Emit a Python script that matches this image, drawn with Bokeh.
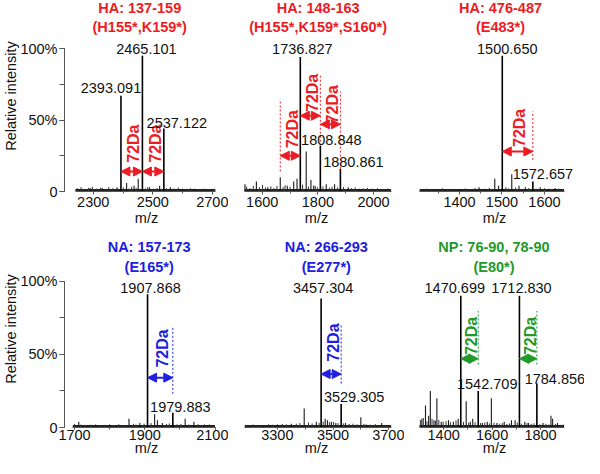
import numpy as np
from bokeh.plotting import figure
from bokeh.layouts import row, column
from bokeh.models import Range1d, FixedTicker, Arrow, NormalHead, ColumnDataSource
from bokeh.core.properties import value
from bokeh.embed import file_html
from bokeh.resources import INLINE

FONT = "Liberation Sans"
RED, BLUE, GREEN = "#ec1c24", "#2020e0", "#229a2a"
SHIFT = 72  # Da, mass shift marked by the arrows

# ------------------------------------------------------------------ data
p1_title = ["HA: 137-159", "(H155*,K159*)"]
p1_main_mz = [2393.091, 2465.101, 2537.122]
p1_main_int = [67, 95, 44]
p1_minor_mz = [2290, 2330, 2380, 2412, 2437, 2451, 2489, 2523, 2559, 2600, 2640]
p1_minor_int = [2.5, 2.5, 3, 6, 4, 9, 3, 4, 3, 2, 2]
p1_noise_mz = [2246, 2259, 2271, 2284, 2297, 2311, 2324, 2339, 2352, 2366, 2401, 2420, 2429,
               2444, 2476, 2483, 2502, 2514, 2530, 2546, 2571, 2586, 2612, 2627, 2655, 2672, 2688, 2703]
p1_noise_int = [2.4, 3.0, 1.8, 2.6, 3.2, 2.0, 2.7, 1.9, 3.1, 2.3, 2.8, 2.1, 3.3,
                2.5, 2.2, 3.0, 2.0, 2.6, 1.8, 2.4, 2.1, 2.7, 1.9, 2.3, 1.7, 2.0, 1.6, 1.9]
p1_arrow_from = [2393.091, 2465.101]

p2_title = ["HA: 148-163", "(H155*,K159*,S160*)"]
p2_main_mz = [1736.827, 1808.848, 1880.861]
p2_main_int = [94, 32, 16]
p2_minor_mz = [1538, 1579, 1620, 1664.8, 1690, 1713, 1725, 1758, 1775, 1790, 1830, 1860, 1909, 1950]
p2_minor_int = [5, 7, 3, 10, 4, 7, 9, 28, 8, 4, 5, 5, 3, 2]
p2_noise_mz = [1544, 1556, 1568, 1590, 1601, 1612, 1631, 1642, 1653, 1675, 1682, 1700, 1745,
               1766, 1784, 1798, 1818, 1842, 1851, 1871, 1892, 1921, 1934, 1963, 1978, 1995, 2014, 2033, 2052]
p2_noise_int = [3.5, 2.4, 4.0, 3.0, 4.6, 2.8, 3.6, 2.5, 3.9, 3.1, 4.4, 3.3, 4.8,
                3.5, 4.1, 3.0, 3.6, 2.7, 3.4, 2.9, 3.1, 2.4, 2.8, 2.2, 2.6, 2.0, 2.3, 1.8, 2.1]
p2_arrow_from = [1664.8, 1736.827, 1808.848]

p3_title = ["HA: 476-487", "(E483*)"]
p3_main_mz = [1500.650, 1572.657]
p3_main_int = [95, 7]
p3_minor_mz = [1400, 1446, 1460, 1483, 1492, 1523, 1540, 1555, 1590, 1610, 1625]
p3_minor_int = [1.5, 3, 2, 9, 4, 12, 4, 3, 3, 2, 2.5]
p3_noise_mz = [1310, 1322, 1335, 1347, 1360, 1372, 1385, 1413, 1425, 1437, 1470, 1509,
               1515, 1532, 1563, 1580, 1600, 1617, 1633, 1642]
p3_noise_int = [1.6, 2.0, 1.4, 1.8, 2.2, 1.5, 1.9, 2.1, 1.6, 2.4, 2.6, 3.0,
                2.2, 2.8, 2.4, 2.0, 2.3, 1.8, 2.1, 1.5]
p3_arrow_from = [1500.650]

p4_title = ["NA: 157-173", "(E165*)"]
p4_main_mz = [1907.868, 1979.883]
p4_main_int = [91, 10]
p4_minor_mz = [1712, 1760, 1800, 1855, 1886, 1928, 1936, 1950, 2015, 2040, 2070]
p4_minor_int = [4, 2, 2, 6, 3, 9, 5, 3, 6, 4, 2]
p4_noise_mz = [1700, 1718, 1731, 1745, 1772, 1786, 1812, 1826, 1840, 1868, 1875, 1898,
               1918, 1962, 1970, 1992, 2003, 2026, 2052, 2061, 2084, 2095]
p4_noise_int = [2.4, 2.0, 1.6, 1.9, 1.5, 1.8, 1.6, 2.2, 1.7, 2.5, 2.0, 2.6,
                3.0, 2.4, 2.8, 2.2, 2.5, 2.0, 2.3, 1.8, 2.1, 1.6]
p4_arrow_from = [1907.868]

p5_title = ["NA: 266-293", "(E277*)"]
p5_main_mz = [3457.304, 3529.305]
p5_main_int = [88, 16]
p5_minor_mz = [3250, 3300, 3350, 3396.5, 3440, 3472, 3480, 3494, 3510, 3545, 3600, 3620, 3675]
p5_minor_int = [1.5, 2, 2.5, 13, 4, 6, 5, 4, 3, 3, 7, 2, 3]
p5_noise_mz = [3190, 3212, 3231, 3268, 3284, 3318, 3333, 3368, 3381, 3412, 3425, 3450,
               3465, 3487, 3502, 3518, 3538, 3558, 3572, 3586, 3611, 3634, 3652, 3690, 3704]
p5_noise_int = [1.8, 2.0, 1.6, 2.2, 1.9, 2.4, 2.1, 2.6, 3.0, 3.4, 2.8, 3.2,
                4.0, 3.6, 3.8, 3.0, 2.8, 2.4, 2.6, 2.2, 2.5, 2.0, 2.3, 1.8, 1.6]
p5_arrow_from = [3457.304]

p6_title = ["NP: 76-90, 78-90", "(E80*)"]
p6_main_mz = [1470.699, 1542.709, 1712.830, 1784.856]
p6_main_int = [90, 25, 90, 30]
p6_minor_mz = [1310, 1325, 1338, 1345, 1360, 1372, 1390, 1420, 1440, 1460, 1493, 1510, 1520,
               1560, 1580, 1597, 1620, 1650, 1680, 1695, 1735, 1750, 1810, 1843, 1850, 1870]
p6_minor_int = [6, 15, 8, 25, 5, 20, 4, 5, 4, 6, 18, 4, 6,
                3, 4, 20, 3, 4, 5, 5, 4, 3, 3, 8, 6, 3]
p6_noise_mz = [1304, 1316, 1331, 1352, 1366, 1380, 1398, 1410, 1428, 1451, 1482, 1503,
               1530, 1552, 1570, 1589, 1608, 1631, 1642, 1661, 1672, 1704, 1722, 1744,
               1762, 1773, 1797, 1822, 1834, 1862, 1881, 1893]
p6_noise_int = [5.0, 6.5, 4.2, 5.8, 4.6, 5.2, 4.0, 4.4, 3.6, 4.8, 3.8, 3.2,
                3.6, 3.0, 3.4, 2.8, 3.2, 2.6, 3.0, 2.5, 2.8, 3.4, 2.6, 3.0,
                2.4, 2.8, 2.2, 2.6, 2.0, 2.4, 1.8, 2.0]
p6_arrow_from = [1470.699, 1712.830]

BASELINE = 0.9  # % level of the continuous baseline noise band

# ------------------------------------------------------------------ layout / style
TOP = dict(h=230, bb=39, ymax=133.6, tick_out=3, lab_off=2, ax_off=0)
BOT = dict(h=228, bb=31, ymax=134.5, tick_out=2, lab_off=0, ax_off=-3)

panels = [
    dict(title=p1_title, color=RED, mz=p1_main_mz, it=p1_main_int, mmz=p1_minor_mz, mit=p1_minor_int,
         nmz=p1_noise_mz, nit=p1_noise_int, arr=p1_arrow_from, rowcfg=TOP,
         w=228, bl=57, yaxis=True,
         xr=(2203.5, 2754.2), bounds=(2240, 2710), major=[2300, 2500, 2700],
         minor=[2300, 2400, 2500, 2600, 2700], tx=2456, ty=[128.7, 115.2],
         ly=[72.5, 100, 48], ldx=[-10, 4, 13], ay=[14, 14], txy=[33.5, 33.5],
         dash=[]),
    dict(title=p2_title, color=RED, mz=p2_main_mz, it=p2_main_int, mmz=p2_minor_mz, mit=p2_minor_int,
         nmz=p2_noise_mz, nit=p2_noise_int, arr=p2_arrow_from, rowcfg=TOP,
         w=176, bl=0, yaxis=False,
         xr=(1478.8, 2111.2), bounds=(1537, 2063), major=[1600, 1800, 2000],
         minor=[1600, 1700, 1800, 1900, 2000], tx=1801, ty=[128.7, 115.2],
         ly=[100, 36, 20.8], ldx=[2, 11, 13], ay=[25, 53, 47], txy=[43.6, 69, 61],
         dash=[(1664.8, 14, 63), (1808.848, 32, 82), (1880.861, 16, 70)]),
    dict(title=p3_title, color=RED, mz=p3_main_mz, it=p3_main_int, mmz=p3_minor_mz, mit=p3_minor_int,
         nmz=p3_noise_mz, nit=p3_noise_int, arr=p3_arrow_from, rowcfg=TOP,
         w=180, bl=0, yaxis=False,
         xr=(1270.5, 1694.2), bounds=(1306, 1646), major=[1400, 1500, 1600],
         minor=[1350, 1400, 1450, 1500, 1550, 1600], tx=1496.5, ty=[128.7, 115.2],
         ly=[100, 12], ldx=[5, 10], ay=[28], txy=[44.5],
         dash=[(1572.657, 22, 56)]),
    dict(title=p4_title, color=BLUE, mz=p4_main_mz, it=p4_main_int, mmz=p4_minor_mz, mit=p4_minor_int,
         nmz=p4_noise_mz, nit=p4_noise_int, arr=p4_arrow_from, rowcfg=BOT,
         w=228, bl=57, yaxis=True,
         xr=(1671.4, 2138.4), bounds=(1695, 2100), major=[1700, 1900, 2100],
         minor=[1700, 1800, 1900, 2000, 2100], tx=1912.5, ty=[123.3, 109.7],
         ly=[95.4, 13.8], ldx=[3, 7.5], ay=[34], txy=[54],
         dash=[(1979.883, 23, 68)]),
    dict(title=p5_title, color=BLUE, mz=p5_main_mz, it=p5_main_int, mmz=p5_minor_mz, mit=p5_minor_int,
         nmz=p5_noise_mz, nit=p5_noise_int, arr=p5_arrow_from, rowcfg=BOT,
         w=176, bl=0, yaxis=False,
         xr=(3124.5, 3756.9), bounds=(3183, 3709), major=[3300, 3500, 3700],
         minor=[3300, 3400, 3500, 3600, 3700], tx=3476, ty=[123.3, 109.7],
         ly=[95.4, 20.8], ldx=[2, 13], ay=[36.5], txy=[58],
         dash=[(3529.305, 30, 71)]),
    dict(title=p6_title, color=GREEN, mz=p6_main_mz, it=p6_main_int, mmz=p6_minor_mz, mit=p6_minor_int,
         nmz=p6_noise_mz, nit=p6_noise_int, arr=p6_arrow_from, rowcfg=BOT,
         w=180, bl=0, yaxis=False,
         xr=(1238.3, 1981.5), bounds=(1300, 1897), major=[1400, 1600, 1800],
         minor=[1400, 1500, 1600, 1700, 1800], tx=1607.7, ty=[123.3, 109.7],
         ly=[95.4, 29.5, 95.4, 33], ldx=[-6, 9, 2, 18], ay=[47, 47], txy=[62.5, 62.5],
         dash=[(1542.709, 43, 79.5), (1784.856, 43, 79.5)]),
]

FS = "14.5px"
AXIS_C = "#555555"


def make(c):
    r = c["rowcfg"]
    p = figure(width=c["w"], height=r["h"], x_range=Range1d(*c["xr"]), y_range=Range1d(0, r["ymax"]),
               output_backend="svg", toolbar_location=None,
               y_axis_location="left" if c["yaxis"] else None,
               min_border_left=c["bl"], min_border_right=0, min_border_top=0,
               min_border_bottom=r["bb"])
    p.outline_line_color = None
    p.grid.grid_line_color = None
    p.background_fill_color = "white"

    xa = p.xaxis[0]
    xa.ticker = FixedTicker(ticks=c["major"], minor_ticks=c["minor"])
    xa.bounds = c["bounds"]
    xa.axis_label = "m/z"
    xa.axis_label_text_font = FONT
    xa.axis_label_text_font_size = FS
    xa.axis_label_text_font_style = "normal"
    xa.axis_label_text_color = "#111111"
    xa.axis_label_standoff = r["ax_off"]
    xa.major_label_text_font = FONT
    xa.major_label_text_font_size = FS
    xa.major_label_text_color = "#111111"
    xa.major_label_standoff = r["lab_off"]
    xa.axis_line_color = AXIS_C
    xa.major_tick_line_color = AXIS_C
    xa.minor_tick_line_color = AXIS_C
    xa.major_tick_in = 0
    xa.major_tick_out = r["tick_out"]
    xa.minor_tick_in = 0
    xa.minor_tick_out = 2

    if c["yaxis"]:
        ya = p.yaxis[0]
        ya.ticker = FixedTicker(ticks=[0, 50, 100], minor_ticks=[0, 25, 50, 75, 100])
        ya.major_label_overrides = {0: "0", 50: "50%", 100: "100%"}
        ya.bounds = (0, 100)
        ya.axis_label = "Relative intensity"
        ya.axis_label_text_font = FONT
        ya.axis_label_text_font_size = FS
        ya.axis_label_text_font_style = "normal"
        ya.axis_label_text_color = "#111111"
        ya.axis_label_standoff = -2
        ya.major_label_text_font = FONT
        ya.major_label_text_font_size = FS
        ya.major_label_text_color = "#111111"
        ya.major_label_standoff = 2
        ya.axis_line_color = AXIS_C
        ya.major_tick_line_color = AXIS_C
        ya.minor_tick_line_color = AXIS_C
        ya.major_tick_in = 0
        ya.major_tick_out = 5
        ya.minor_tick_in = 0
        ya.minor_tick_out = 5

    col = c["color"]
    # baseline noise band
    b0, b1 = c["bounds"]
    p.segment(x0=[b0], y0=[BASELINE], x1=[b1], y1=[BASELINE], line_color="#222222", line_width=2.2)
    # noise and minor peaks
    p.segment(x0=c["nmz"], y0=0, x1=c["nmz"], y1=c["nit"], line_color="#333333", line_width=1)
    p.segment(x0=c["mmz"], y0=0, x1=c["mmz"], y1=c["mit"], line_color="#1a1a1a", line_width=1.1)
    # labelled peaks
    p.segment(x0=c["mz"], y0=0, x1=c["mz"], y1=c["it"], line_color="#000000", line_width=1.6)

    # dashed guides
    if c["dash"]:
        dx = [d[0] for d in c["dash"]]
        p.segment(x0=dx, y0=[d[1] for d in c["dash"]], x1=dx, y1=[d[2] for d in c["dash"]],
                  line_color=col, line_width=1, line_dash="2 2")

    # arrows (peak -> peak + 72 Da)
    for a, y in zip(c["arr"], c["ay"]):
        p.add_layout(Arrow(x_start=a, y_start=y, x_end=a + SHIFT, y_end=y,
                           line_color=col, line_width=2,
                           start=NormalHead(size=9, fill_color=col, line_color=col, line_width=1),
                           end=NormalHead(size=9, fill_color=col, line_color=col, line_width=1)))
    tsrc = ColumnDataSource(dict(x=[a + SHIFT / 2 for a in c["arr"]], y=c["txy"],
                                 t=["72Da"] * len(c["arr"])))
    p.text(x="x", y="y", text="t", source=tsrc, angle=np.pi / 2, x_offset=2,
           text_font=value(FONT), text_font_size="16px", text_font_style="bold",
           text_color=col, text_align="center", text_baseline="middle")

    # peak labels
    lsrc = ColumnDataSource(dict(x=c["mz"], y=c["ly"], dx=c["ldx"],
                                 t=["%.3f" % m for m in c["mz"]]))
    p.text(x="x", y="y", text="t", source=lsrc, x_offset="dx",
           text_font=value(FONT), text_font_size=FS, text_color="#111111",
           text_align="center", text_baseline="middle")

    # two-line panel title
    ssrc = ColumnDataSource(dict(x=[c["tx"], c["tx"]], y=c["ty"], t=c["title"]))
    p.text(x="x", y="y", text="t", source=ssrc,
           text_font=value(FONT), text_font_size=FS, text_font_style="bold",
           text_color=col, text_align="center", text_baseline="middle")
    return p


figs = [make(c) for c in panels]
layout = column(row(*figs[:3]), row(*figs[3:]))
open("out.html", "w").write(file_html(layout, INLINE))
